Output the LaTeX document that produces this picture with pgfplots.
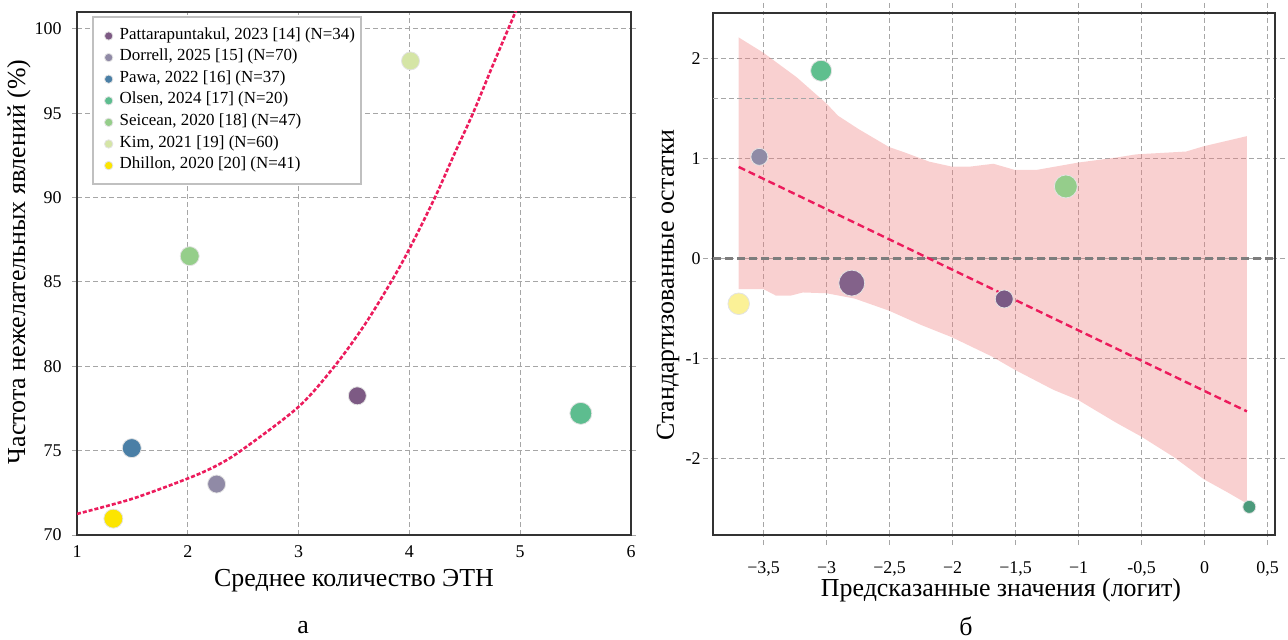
\documentclass[border=0pt]{standalone}
\usepackage{fontspec}
\setmainfont{Liberation Serif}
\usepackage{pgfplots}
\pgfplotsset{compat=1.18}
\definecolor{cPatt}{HTML}{7D5A84}
\definecolor{cDorr}{HTML}{908AA6}
\definecolor{cPawa}{HTML}{4A7FA6}
\definecolor{cOlsen}{HTML}{5DBD8F}
\definecolor{cSeic}{HTML}{95CE8A}
\definecolor{cKim}{HTML}{D5E5A6}
\definecolor{cDhil}{HTML}{FCE500}
\definecolor{rYel}{HTML}{FBF197}
\definecolor{rDorr}{HTML}{8F8BA6}
\definecolor{rOlsen}{HTML}{5FBF8E}
\definecolor{rBigP}{HTML}{83628A}
\definecolor{rSmP}{HTML}{7A5A85}
\definecolor{rLG}{HTML}{95CD8B}
\definecolor{rDG}{HTML}{4B9A7B}
\definecolor{gridc}{HTML}{A6A6A6}
\definecolor{fitred}{HTML}{EC1B5C}
\definecolor{bandc}{RGB}{240,128,128}
\definecolor{framec}{HTML}{333333}
\begin{document}
\begin{tikzpicture}[x=1bp,y=1bp]
\useasboundingbox (0,0) rectangle (644,319.5);
\pgfplotsset{
  common/.style={
    scale only axis,
    axis line style={draw=framec, line width=0.75bp},
    grid=major,
    major grid style={draw=gridc, line width=0.5bp, dash pattern=on 2.5bp off 1.5bp},
    tick style={draw=gridc, line width=0.5bp, dash pattern=on 2.5bp off 1.5bp},
    tick align=outside,
    tick label style={font=\fontsize{9}{10}\selectfont},
    /pgf/number format/assume math mode=true,
  },
  dot/.style 2 args={only marks, mark=*, mark size=#2, color=#1,
    mark options={draw=white!78!gray, fill=#1, line width=0.4bp}},
}
% ---------------- left panel ----------------
\begin{axis}[common,
  at={(38.5bp,52bp)}, anchor=south west, width=277bp, height=261.5bp,
  xmin=1, xmax=6, ymin=70, ymax=101,
  xtick={1,2,3,4,5,6}, ytick={70,75,80,85,90,95,100},
  xtick style={draw=none}, major tick length=2.5bp,
  xticklabel style={anchor=north, inner sep=0pt, yshift=-2.5bp},
  yticklabel style={anchor=east, inner sep=0pt, xshift=-5bp},
  legend style={at={(0.0265,0.992)}, anchor=north west,
    draw={rgb,255:red,192;green,192;blue,192}, line width=1bp,
    font=\fontsize{8.5}{9}\selectfont, inner xsep=3bp, inner ysep=4bp,
    nodes={inner sep=0bp, text height=7bp, text depth=3.8bp},
    cells={anchor=west}},
  legend image code/.code={\draw[#1, mark size=2.1bp] plot coordinates {(4.5bp,0bp)}; \path (0bp,0bp) (9.5bp,0bp);},
]
\addplot[dot={cPatt}{4.5bp}] coordinates {(3.53,78.25)};
\addlegendentry{Pattarapuntakul, 2023 [14] (N=34)}
\addplot[dot={cDorr}{4.5bp}] coordinates {(2.26,73.02)};
\addlegendentry{Dorrell, 2025 [15] (N=70)}
\addplot[dot={cPawa}{4.75bp}] coordinates {(1.494,75.15)};
\addlegendentry{Pawa, 2022 [16] (N=37)}
\addplot[dot={cOlsen}{5.5bp}] coordinates {(5.547,77.21)};
\addlegendentry{Olsen, 2024 [17] (N=20)}
\addplot[dot={cSeic}{4.75bp}] coordinates {(2.017,86.53)};
\addlegendentry{Seicean, 2020 [18] (N=47)}
\addplot[dot={cKim}{4.5bp}] coordinates {(4.01,98.1)};
\addlegendentry{Kim, 2021 [19] (N=60)}
\addplot[dot={cDhil}{4.75bp}] coordinates {(1.328,70.97)};
\addlegendentry{Dhillon, 2020 [20] (N=41)}
\addplot[forget plot, fitred, line width=1.3bp, dash pattern=on 2bp off 1bp, smooth] coordinates {
(1.0,71.25) (1.5,72.15) (2.0,73.35) (2.25,74.08) (2.48,75.0) (3.0,77.6) (3.33,80.05) (3.6,82.5)
(3.837,85.03) (4.0,86.96) (4.23,90.0) (4.4,92.5) (4.574,95.0) (4.75,97.8) (4.957,101.0) (5.0,101.7)};
\end{axis}
% ---------------- right panel ----------------
\begin{axis}[common,
  at={(356.5bp,52bp)}, anchor=south west, width=281bp, height=261bp,
  xmin=-3.901, xmax=0.559, ymin=-2.764, ymax=2.451,
  xtick={-3.5,-3,-2.5,-2,-1.5,-1,-0.5,0,0.5},
  xticklabels={{−3,5},{−3},{−2,5},{−2},{−1,5},{−1},{-0,5},{0},{0,5}},
  ytick={-2,-1,0,1,2}, yticklabels={-2,-1,0,1,2},
  major tick length=5bp,
  xticklabel style={anchor=north, inner sep=0pt, yshift=-8bp},
  yticklabel style={anchor=east, inner sep=0pt, xshift=-1bp},
]
\addplot[forget plot, draw=none, fill=bandc, fill opacity=0.37] coordinates {
(-3.697,2.207) (-3.5,2.053) (-3.237,1.809) (-3.0,1.546) (-2.908,1.424) (-2.744,1.290)
(-2.504,1.112) (-2.382,1.059) (-2.185,0.966) (-2.008,0.917) (-1.857,0.917) (-1.676,0.945)
(-1.508,0.884) (-1.331,0.884) (-1.002,0.957) (-0.706,1.006) (-0.542,1.039) (-0.147,1.067)
(-0.006,1.12) (0.336,1.221)
(0.336,-2.450) (0.181,-2.337) (-0.006,-2.207) (-0.246,-1.984) (-0.502,-1.781) (-0.706,-1.639)
(-1.002,-1.416) (-1.199,-1.314) (-1.508,-1.112) (-1.692,-0.978) (-2.008,-0.787) (-2.251,-0.665)
(-2.504,-0.523) (-2.777,-0.402) (-3.0,-0.349) (-3.188,-0.341) (-3.286,-0.373) (-3.401,-0.373)
(-3.5,-0.308) (-3.697,-0.308)} -- cycle;
\addplot[forget plot, draw={rgb,255:red,125;green,125;blue,125}, line width=1.2bp, dash pattern=on 4bp off 2bp] coordinates {(-3.901,0) (0.559,0)};
\addplot[forget plot, draw=gridc, line width=0.5bp, dash pattern=on 2.5bp off 1.5bp] coordinates {(-3.901,1.594) (0.559,1.594)};
\addplot[dot={rYel}{5.4bp}] coordinates {(-3.697,-0.454)};
\addplot[dot={rDorr}{4.25bp}] coordinates {(-3.533,1.014)};
\addplot[dot={rOlsen}{5.25bp}] coordinates {(-3.043,1.874)};
\addplot[dot={rBigP}{6.5bp}] coordinates {(-2.80,-0.247)};
\addplot[dot={rSmP}{4.5bp}] coordinates {(-1.59,-0.406)};
\addplot[dot={rLG}{5.75bp}] coordinates {(-1.101,0.718)};
\addplot[dot={rDG}{3.25bp}] coordinates {(0.355,-2.483)};
\addplot[fitred, line width=1.2bp, dash pattern=on 3.5bp off 2bp] coordinates {(-3.697,0.913) (0.336,-1.529)};
\end{axis}
% ---------------- labels ----------------
\node[font=\fontsize{13}{15}\selectfont] at (177,29) {Среднее количество ЭТН};
\node[font=\fontsize{13}{15}\selectfont, rotate=90] at (9.5,188.5) {Частота нежелательных явлений (\%)};
\node[font=\fontsize{13}{15}\selectfont] at (500.5,24.5) {Предсказанные значения (логит)};
\node[font=\fontsize{13}{15}\selectfont, rotate=90] at (334,177) {Стандартизованные остатки};
\node[font=\fontsize{13}{15}\selectfont] at (151.5,5.5) {а};
\node[font=\fontsize{13}{15}\selectfont] at (483,6.5) {б};
\end{tikzpicture}
\end{document}
